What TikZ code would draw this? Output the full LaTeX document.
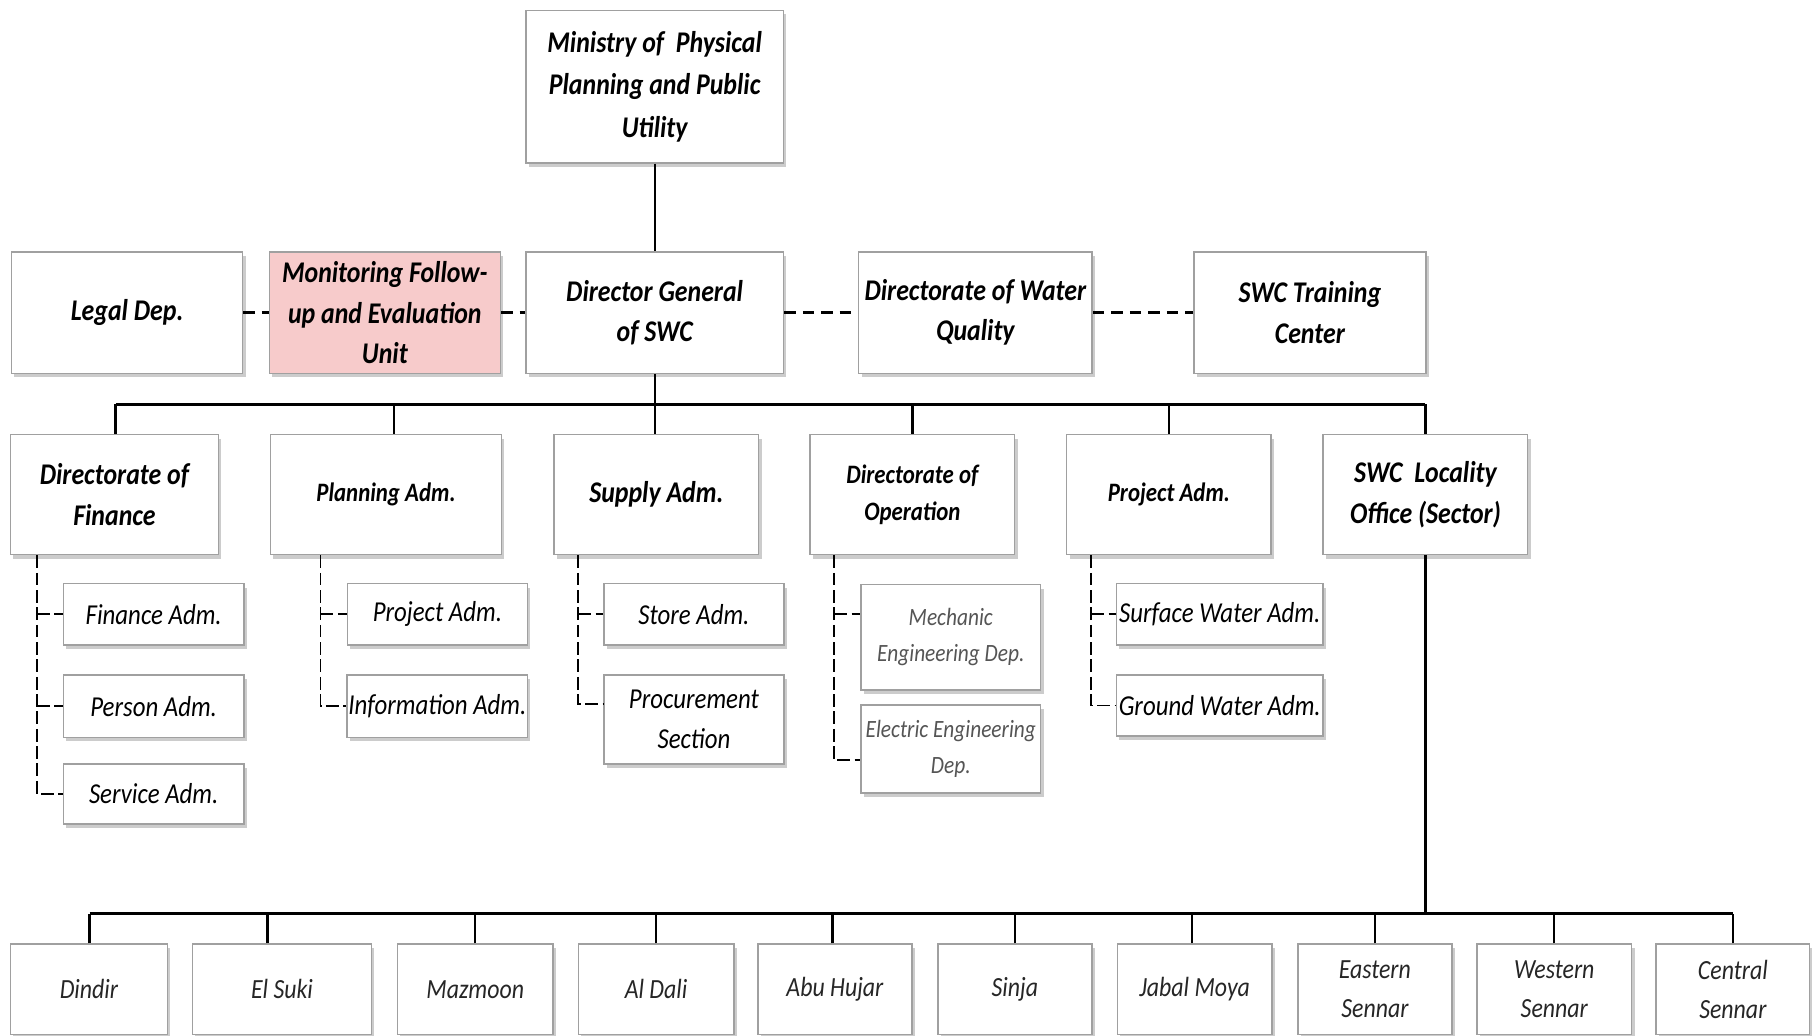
\documentclass[tikz,border=0pt]{standalone}
\usepackage{fontspec}
\setmainfont{Carlito}[FakeStretch=0.86]
\usetikzlibrary{shadows,calc}
\definecolor{pinkfill}{RGB}{247,203,203}
\definecolor{boxline}{RGB}{160,160,160}
\definecolor{lighttext}{RGB}{85,85,85}
\begin{document}
\begin{tikzpicture}[x=1pt,y=-1pt,
  box/.style={draw=boxline, line width=1.3pt, fill=white, inner sep=1pt, align=center,
    drop shadow={shadow xshift=2.5pt,shadow yshift=-3.5pt,opacity=0.4}},
  ttl/.style={font=\fontsize{26}{35}\selectfont\bfseries\itshape},
  ttlm/.style={font=\fontsize{26}{36.5}\selectfont\bfseries\itshape},
  ttls/.style={font=\fontsize{23}{32}\selectfont\bfseries\itshape},
  sub/.style={font=\fontsize{25}{34}\selectfont\itshape},
  subl/.style={font=\fontsize{21.5}{31}\selectfont\itshape, text=lighttext},
  loc/.style={font=\fontsize{24}{34}\selectfont\itshape, text=black!85},
  solidline/.style={line width=2pt, black},
  dashline/.style={line width=2pt, black, dash pattern=on 10pt off 6pt},
  subdash/.style={line width=1.6pt, black, dash pattern=on 11pt off 4pt}
]
\useasboundingbox (0,0) rectangle (1568,896);

% top
\node[box, ttlm, minimum width=223, minimum height=132] (min) at (566.5,75) {Ministry of~ Physical\\Planning and Public\\Utility};

% row 2
\node[box, ttl, minimum width=200, minimum height=105] (legal) at (110,270.5) {Legal Dep.};
\node[box, ttl, fill=pinkfill, minimum width=200, minimum height=105] (mon) at (333,270.5) {Monitoring Follow-\\up and Evaluation\\Unit};
\node[box, ttl, minimum width=223, minimum height=105] (dg) at (566.5,270.5) {Director General\\of SWC};
\node[box, ttl, minimum width=202, minimum height=105] (wq) at (844,270.5) {Directorate of Water\\Quality};
\node[box, ttl, minimum width=201, minimum height=105] (train) at (1133.5,270.5) {SWC Training\\Center};

% row 3
\node[box, ttl, minimum width=180, minimum height=104] (fin) at (99,428) {Directorate of\\Finance};
\node[box, ttls, minimum width=200, minimum height=104] (plan) at (334,428) {Planning Adm.};
\node[box, ttl, minimum width=177, minimum height=104] (sup) at (568,428) {Supply Adm.};
\node[box, ttls, minimum width=177, minimum height=104] (ope) at (789.5,428) {Directorate of\\Operation};
\node[box, ttls, minimum width=177, minimum height=104] (proj) at (1011.5,428) {Project Adm.};
\node[box, ttl, minimum width=177, minimum height=104] (loc) at (1233.5,428) {SWC~ Locality\\Office (Sector)};

% sub items
\node[box, sub, minimum width=156, minimum height=53] (finadm) at (133,531.5) {Finance Adm.};
\node[box, sub, minimum width=156, minimum height=54] (peradm) at (133,611) {Person Adm.};
\node[box, sub, minimum width=156, minimum height=52] (seradm) at (133,687) {Service Adm.};

\node[box, sub, minimum width=156, minimum height=53] (pjadm) at (378.5,531.5) {Project Adm.};
\node[box, sub, minimum width=156, minimum height=54] (infadm) at (378.5,611) {Information Adm.};

\node[box, sub, minimum width=156, minimum height=53] (stadm) at (600.5,531.5) {Store Adm.};
\node[box, sub, minimum width=156, minimum height=77] (proc) at (600.5,622.5) {Procurement\\Section};

\node[box, subl, minimum width=155.5, minimum height=91] (mech) at (822.75,551.5) {Mechanic\\Engineering Dep.};
\node[box, subl, minimum width=155.5, minimum height=76] (elec) at (822.75,648) {Electric Engineering\\Dep.};

\node[box, sub, minimum width=179, minimum height=53] (surf) at (1055.5,531.5) {Surface Water Adm.};
\node[box, sub, minimum width=179, minimum height=53] (grnd) at (1055.5,610.5) {Ground Water Adm.};

% bottom row
\node[box, loc, minimum width=136, minimum height=78] (b1) at (77,856) {Dindir};
\node[box, loc, minimum width=155, minimum height=78] (b2) at (244,856) {El Suki};
\node[box, loc, minimum width=134.5, minimum height=78] (b3) at (411.25,856) {Mazmoon};
\node[box, loc, minimum width=134.5, minimum height=78] (b4) at (567.75,856) {Al Dali};
\node[box, loc, minimum width=133, minimum height=78] (b5) at (722.5,856) {Abu Hujar};
\node[box, loc, minimum width=133.5, minimum height=78] (b6) at (878.25,856) {Sinja};
\node[box, loc, minimum width=133.5, minimum height=78] (b7) at (1033.75,856) {Jabal Moya};
\node[box, loc, minimum width=133.5, minimum height=78] (b8) at (1189.75,856) {Eastern\\Sennar};
\node[box, loc, minimum width=134, minimum height=78] (b9) at (1345,856) {Western\\Sennar};
\node[box, loc, minimum width=133, minimum height=78] (b10) at (1499.5,856) {Central\\Sennar};

% connectors top
\draw[solidline] (min.south) -- (dg.north);
\draw[dashline] (legal.east) -- (mon.west);
\draw[dashline] (mon.east) -- (dg.west);
\draw[dashline] (dg.east) -- (wq.west);
\draw[dashline] (wq.east) -- (train.west);

% bus 1
\coordinate (bus) at (566.5,350);
\draw[solidline] (dg.south) -- (dg.south |- bus);
\draw[solidline] ([xshift=1pt]fin.north |- bus) -- (loc.north |- bus);
\draw[solidline] ([xshift=1pt]fin.north) -- ([xshift=1pt]fin.north |- bus);
\draw[solidline] ([xshift=7pt]plan.north) -- ([xshift=7pt]plan.north |- bus);
\draw[solidline] ([xshift=-1pt]sup.north) -- ([xshift=-1pt]sup.north |- bus);
\draw[solidline] (ope.north) -- (ope.north |- bus);
\draw[solidline] (proj.north) -- (proj.north |- bus);
\draw[solidline] (loc.north) -- (loc.north |- bus);

% sub dashed
\coordinate (fa) at ($(fin.south west)+(23.5,0)$);
\draw[subdash] (fa) |- (seradm.west);
\draw[subdash] (fa |- finadm.west) -- (finadm.west);
\draw[subdash] (fa |- peradm.west) -- (peradm.west);

\coordinate (pa) at ($(plan.south west)+(44,0)$);
\draw[subdash] (pa) |- (infadm.west);
\draw[subdash] (pa |- pjadm.west) -- (pjadm.west);

\coordinate (sa) at ($(sup.south west)+(21.5,0)$);
\draw[subdash] (sa) |- ($(proc.west)+(0,-13)$);
\draw[subdash] (sa |- stadm.west) -- (stadm.west);

\coordinate (oa) at ($(ope.south west)+(21.5,0)$);
\coordinate (mt) at ($(mech.west)+(0,-20.5)$);
\coordinate (et) at ($(elec.west)+(0,10)$);
\draw[subdash] (oa) |- (et);
\draw[subdash] (oa |- mt) -- (mt);

\coordinate (ja) at ($(proj.south west)+(22,0)$);
\draw[subdash] (ja) |- (grnd.west);
\draw[subdash] (ja |- surf.west) -- (surf.west);

% bus 2
\coordinate (bus2) at (1233.5,790.5);
\draw[solidline] (loc.south) -- (loc.south |- bus2);
\draw[solidline] ([xshift=0.5pt]b1.north |- bus2) -- (b10.north |- bus2);
\draw[solidline] ([xshift=0.5pt]b1.north) -- ([xshift=0.5pt]b1.north |- bus2);
\draw[solidline] ([xshift=-12.5pt]b2.north) -- ([xshift=-12.5pt]b2.north |- bus2);
\draw[solidline] (b3.north) -- (b3.north |- bus2);
\draw[solidline] (b4.north) -- (b4.north |- bus2);
\draw[solidline] ([xshift=-2pt]b5.north) -- ([xshift=-2pt]b5.north |- bus2);
\draw[solidline] (b6.north) -- (b6.north |- bus2);
\draw[solidline] ([xshift=-2.5pt]b7.north) -- ([xshift=-2.5pt]b7.north |- bus2);
\draw[solidline] (b8.north) -- (b8.north |- bus2);
\draw[solidline] (b9.north) -- (b9.north |- bus2);
\draw[solidline] (b10.north) -- (b10.north |- bus2);
\end{tikzpicture}
\end{document}
